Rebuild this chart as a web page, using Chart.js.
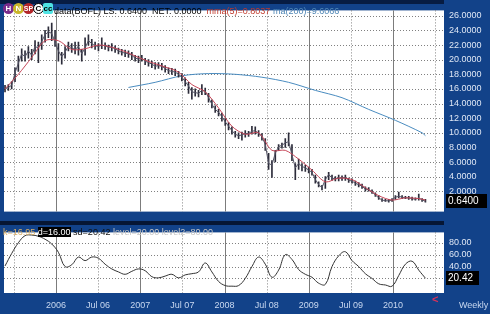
<!DOCTYPE html>
<html>
<head>
<meta charset="utf-8">
<script src="https://cdn.jsdelivr.net/npm/chart.js@4.4.1/dist/chart.umd.min.js"></script>
<style>
  body { margin: 0; width: 490px; height: 314px; overflow: hidden; position: relative;
         background: #124289; font-family: 'Liberation Sans', Arial, sans-serif; }
  .abs { position: absolute; }
  .ico { position: absolute; top: 3px; width: 11px; height: 11px; border-radius: 6px;
         font: bold 8px/11px 'Liberation Sans', Arial, sans-serif; text-align: center; }
</style>
</head>
<body>
<div class="abs" style="left:0;top:0;width:490px;height:222px"><canvas id="price"></canvas></div>
<div class="abs" style="left:0;top:0;width:444px;height:4px;background:#071c42"></div>
<div class="abs" style="left:0;top:222px;width:490px;height:92px"><canvas id="stoch"></canvas></div>
<div class="abs" style="left:0;top:221px;width:444px;height:4px;background:#061634"></div>

<span class="ico" style="left:3px;background:#7a2c8c;color:#fff">H</span>
<span class="ico" style="left:13px;background:#c9b62a;color:#fff">N</span>
<span class="ico" style="left:23px;background:#b3262a;color:#fff;font-size:7px">SP</span>
<span class="ico" style="left:33px;background:#fff;color:#000;border:1px solid #000;width:9px;height:9px;line-height:9px">C</span>
<span class="ico" style="left:43px;background:#4fe3e3;color:#000;border-radius:2px;width:10px">cc</span>
<div class="abs" style="left:54px;top:5px;font-size:9px;line-height:12px;white-space:pre;color:#000">data(BOFL) LS: 0.6400  NET: 0.0000  <span style="color:#c0392b">mma(5)=0.8037</span> <span style="color:#4f86b5">ma(200)=9.6066</span></div>

<div class="abs" style="left:3px;top:227px;font-size:9px;line-height:11px;white-space:pre"><span style="color:#d9b06a">k=16.95</span> <span style="background:#000;color:#fff">d=16.00</span> <span style="color:#111">sd=20.42</span> <span style="color:#c4c4c4">level=20.00 level2=80.00</span></div>

<div class="abs" style="left:432px;top:293px;color:#d8325a;font:bold 11px 'Liberation Sans',Arial,sans-serif">&lt;</div>
<div class="abs" style="left:459px;top:300px;color:#c8d8f0;font-size:9px">Weekly</div>

<script>
// sample dates (decimal years), roughly two weeks apart
const firstSample = 2005.395;
const sampleStep = 0.0396;

const closes = [16.0,16.2,16.5,18.2,19.5,20.8,20.4,21.2,20.6,21.8,
  21.6,22.5,23.4,23.8,23.6,22.4,21.2,20.4,21.0,21.9,
  21.6,21.4,21.8,20.8,21.6,22.6,22.2,21.9,21.8,22.0,
  21.9,21.7,21.7,21.5,21.2,21.0,20.9,20.8,20.6,20.2,
  20.1,20.2,19.8,19.6,19.4,19.1,19.2,19.1,18.8,18.5,
  18.4,18.3,18.0,17.6,17.0,16.4,15.6,15.5,15.4,15.8,
  15.7,14.8,13.9,13.2,12.8,12.2,11.5,10.9,10.3,9.8,
  9.6,9.7,9.9,9.9,10.2,10.3,9.9,9.5,8.4,5.8,
  5.6,7.2,8.1,8.3,8.6,8.8,7.0,5.2,5.8,5.4,
  5.2,4.9,4.6,3.6,2.9,2.5,3.6,4.3,3.8,3.7,
  3.8,3.8,3.9,3.5,3.4,3.1,2.9,2.7,2.3,2.2,
  1.9,1.5,1.1,0.8,0.7,0.7,0.8,1.2,1.3,1.2,
  1.1,1.1,1.0,0.9,1.1,0.8,0.64];

const highs = [16.5,16.6,17.0,18.9,20.5,21.5,21.2,21.8,21.4,22.6,
  22.4,23.4,24.0,24.5,25.0,24.0,22.2,21.0,21.8,22.4,
  22.2,22.4,22.4,21.4,23.0,23.4,22.8,22.4,22.2,23.0,
  22.3,22.0,22.2,21.9,21.6,21.4,21.3,21.2,21.0,20.6,
  20.5,20.6,20.2,20.0,19.8,19.6,19.6,19.5,19.2,18.9,
  18.8,18.7,18.4,18.1,17.5,16.9,16.2,16.0,15.8,16.6,
  16.1,15.4,14.5,13.7,13.2,12.7,12.0,11.4,10.8,10.2,
  10.0,10.1,10.3,10.2,10.9,10.8,10.3,9.9,9.2,7.2,
  6.2,7.6,8.4,8.6,9.2,10.0,8.4,5.8,6.4,5.8,
  5.6,5.3,5.0,4.2,3.3,2.8,4.0,4.6,4.2,4.0,
  4.2,4.1,4.2,3.8,3.7,3.4,3.2,3.0,2.6,2.5,
  2.2,1.8,1.4,1.0,0.9,0.9,1.0,1.4,1.9,1.4,
  1.3,1.3,1.2,1.1,1.6,1.0,0.9];

const lows = [15.6,15.8,16.0,17.0,18.4,19.8,19.8,20.2,20.0,20.8,
  19.6,21.4,22.4,23.0,22.6,21.8,19.8,19.4,20.2,21.2,
  21.0,20.8,20.6,19.8,20.6,22.0,21.6,21.4,21.2,21.5,
  21.4,21.2,21.2,21.0,20.8,20.6,20.4,20.3,20.0,19.8,
  19.6,19.8,19.3,19.1,18.9,18.7,18.8,18.6,18.3,18.1,
  18.0,17.8,17.6,17.1,16.4,15.4,14.6,15.0,14.9,15.2,
  15.2,14.2,13.4,12.8,12.3,11.6,11.0,10.4,9.8,9.4,
  9.2,9.0,9.4,9.5,9.8,9.8,9.5,9.0,7.6,5.0,
  3.9,6.0,7.6,7.9,8.0,8.2,6.2,3.6,5.0,4.8,
  4.7,4.5,4.2,3.1,2.6,2.2,2.4,3.6,3.5,3.4,
  3.4,3.5,3.5,3.2,3.1,2.8,2.6,2.4,2.0,2.0,
  1.7,1.3,0.9,0.6,0.6,0.5,0.6,0.9,1.1,1.0,
  1.0,0.9,0.8,0.8,0.8,0.6,0.5];

// mma(5), read every 4th sample (last one is the final sample)
const mma5 = [16.0,18.0,20.3,22.6,22.6,21.4,21.5,22.0,21.7,21.1,20.3,19.6,19.0,18.3,16.6,15.6,
  13.4,10.9,9.8,10.0,7.6,7.6,6.4,4.9,3.3,3.8,3.6,2.5,1.4,0.8,1.1,1.0,0.8037];

// ma(200), starts at sample 37, every 8th sample, last one is the final sample
const ma200Start = 37;
const ma200 = [16.2,16.9,17.8,18.1,18.0,17.6,16.9,15.8,14.8,13.2,11.7,10.0,9.6066];

// stochastic %D, every 2nd sample
const stochD = [41,62,80,92,93,91,86,78,64,40,
  43,56,50,56,54,44,36,31,27,32,
  36,33,23,21,24,27,21,26,28,31,
  46,31,15,8,7,8,20,40,56,44,
  22,34,60,52,35,27,22,12,10,40,
  58,65,50,40,28,20,11,9,7,25,
  44,49,34,20.42];

const tickYears = [2005.5,2006,2006.5,2007,2007.5,2008,2008.5,2009,2009.5,2010,2010.5];
const tickLabels = ['','2006','Jul 06','2007','Jul 07','2008','Jul 08','2009','Jul 09','2010',''];
const priceTicks = [2,4,6,8,10,12,14,16,18,20,22,24,26];
const stochTicks = [20,40,60,80];

const last = closes.length - 1;
const sx = i => firstSample + i * sampleStep;

Chart.defaults.font.family = "'Liberation Sans', Arial, sans-serif";
Chart.defaults.font.size = 9;

const panelGrid = {
  id: 'panelGrid',
  beforeDraw(chart) {
    const { ctx, chartArea: a } = chart;
    ctx.save();
    ctx.fillStyle = '#ffffff';
    ctx.fillRect(a.left, a.top, a.width, a.height);
    ctx.restore();
  },
  beforeDatasetsDraw(chart) {
    const { ctx, chartArea: a, scales } = chart;
    ctx.save();
    ctx.lineWidth = 1;
    tickYears.forEach(v => {
      const x = Math.round(scales.x.getPixelForValue(v)) + 0.5;
      const solid = Number.isInteger(v);
      ctx.strokeStyle = solid ? '#7c7c7c' : '#808080';
      ctx.setLineDash(solid ? [] : [1, 2]);
      ctx.beginPath(); ctx.moveTo(x, a.top); ctx.lineTo(x, a.bottom); ctx.stroke();
    });
    ctx.strokeStyle = '#808080';
    ctx.setLineDash([1, 2]);
    scales.y.ticks.forEach(t => {
      const y = Math.round(scales.y.getPixelForValue(t.value)) + 0.5;
      ctx.beginPath(); ctx.moveTo(a.left, y); ctx.lineTo(a.right, y); ctx.stroke();
    });
    ctx.restore();
  },
  afterDraw(chart, args, opts) {
    if (opts.value == null) return;
    const { ctx, chartArea: a, scales } = chart;
    const y = Math.round(scales.y.getPixelForValue(opts.value));
    ctx.save();
    ctx.fillStyle = '#000';
    ctx.fillRect(a.right + 2, y - 7, opts.width, 14);
    ctx.fillStyle = '#fff';
    ctx.font = "10px 'Liberation Sans', Arial, sans-serif";
    ctx.textBaseline = 'middle';
    ctx.fillText(opts.text, a.right + 4, y + 0.5);
    ctx.restore();
  }
};

const xRange = { type: 'linear', min: 2005.383, max: 2010.605, offset: false };

new Chart(document.getElementById('price'), {
  data: {
    datasets: [
      { type: 'line', data: ma200.map((v, k) => ({ x: sx(Math.min(ma200Start + 8 * k, last)), y: v })),
        borderColor: '#4a8cc0', borderWidth: 1, pointRadius: 0, tension: 0.3, order: 4 },
      { type: 'bar', data: closes.map((c, i) => ({ x: sx(i), y: [lows[i], highs[i]] })),
        backgroundColor: '#2c2c3a', barThickness: 1, order: 3 },
      { type: 'line', data: closes.map((c, i) => ({ x: sx(i), y: c })),
        borderColor: '#555566', borderWidth: 1, pointRadius: 0, order: 2 },
      { type: 'line', data: mma5.map((v, k) => ({ x: sx(Math.min(4 * k, last)), y: v })),
        borderColor: '#c8485a', borderWidth: 1, pointRadius: 0, tension: 0.3, order: 1 }
    ]
  },
  options: {
    responsive: true, maintainAspectRatio: false, animation: false, devicePixelRatio: 1,
    layout: { padding: { left: 4, top: 4, right: 0, bottom: 0 } },
    plugins: { legend: { display: false }, tooltip: { enabled: false },
               panelGrid: { value: closes[last], text: closes[last].toFixed(4), width: 41 } },
    scales: {
      x: { ...xRange, display: false },
      y: {
        position: 'right', min: -0.78, max: 26.74,
        afterBuildTicks: s => { s.ticks = priceTicks.map(v => ({ value: v })); },
        afterFit: s => { s.width = 46; },
        grid: { display: false, drawTicks: false }, border: { display: false },
        ticks: { color: '#dfe7f5', padding: 5, callback: v => v.toFixed(4) }
      }
    }
  },
  plugins: [panelGrid]
});

new Chart(document.getElementById('stoch'), {
  type: 'line',
  data: {
    datasets: [
      { data: stochD.map((v, k) => ({ x: sx(Math.min(2 * k, last)), y: v })),
        borderColor: '#333333', borderWidth: 1, pointRadius: 0, tension: 0.4 }
    ]
  },
  options: {
    responsive: true, maintainAspectRatio: false, animation: false, devicePixelRatio: 1,
    layout: { padding: { left: 4, top: 3, right: 0, bottom: 0 } },
    plugins: { legend: { display: false }, tooltip: { enabled: false },
               panelGrid: { value: stochD[stochD.length - 1], text: stochD[stochD.length - 1].toFixed(2), width: 33 } },
    scales: {
      x: {
        ...xRange,
        afterBuildTicks: s => { s.ticks = tickYears.map(v => ({ value: v })); },
        afterFit: s => { s.height = 21; },
        grid: { display: false, drawTicks: false }, border: { display: false },
        ticks: { color: '#c8d8f0', padding: 7, maxRotation: 0, autoSkip: false,
                 callback: (v, i) => tickLabels[i] }
      },
      y: {
        position: 'right', min: -4.5, max: 97.5,
        afterBuildTicks: s => { s.ticks = stochTicks.map(v => ({ value: v })); },
        afterFit: s => { s.width = 46; },
        grid: { display: false, drawTicks: false }, border: { display: false },
        ticks: { color: '#dfe7f5', padding: 5, callback: v => v.toFixed(2) }
      }
    }
  },
  plugins: [panelGrid]
});
</script>
</body>
</html>
